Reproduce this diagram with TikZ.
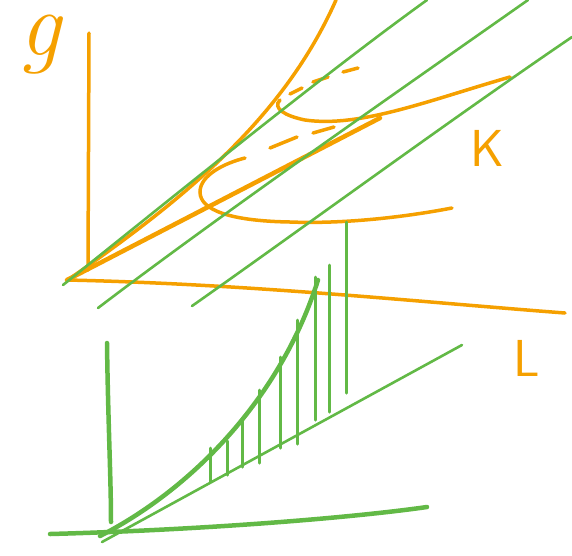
\documentclass[tikz,border=0pt]{standalone}
\usepackage{tikz}
\usetikzlibrary{positioning}

\definecolor{penorange}{RGB}{245,160,0}
\definecolor{pengreen}{RGB}{98,185,70}

\begin{document}
\begin{tikzpicture}[x=1pt,y=-1pt,
  orng/.style={penorange,line width=3.5pt,line cap=round},
  orngthick/.style={penorange,line width=4.5pt,line cap=round},
  grn/.style={pengreen,line width=2.6pt,line cap=round},
  grnthick/.style={pengreen,line width=4.5pt,line cap=round},
  hatch/.style={pengreen,line width=3pt,line cap=round},
  axlabel/.style={penorange,inner sep=0pt,font=\fontsize{52}{52}\selectfont\sffamily}
]
  \useasboundingbox (0,0) rectangle (572,555);

  % upper sketch: surface over K and L
  \coordinate (o) at (67,280);
  \draw[orng] (89,33) -- (88,270);
  \draw[orng] (o) .. controls (250,284) and (420,302) .. (565,313);
  \draw[orngthick] (o) -- (380,118);
  \draw[orng] (72,277) .. controls (190,195) and (285,115) .. (336,0);

  % isoquants
  \draw[orng] (452,208) .. controls (400,218) and (340,224) .. (290,222)
    .. controls (230,221) and (200,210) .. (200,192)
    .. controls (200,175) and (225,163) .. (245,158);
  \draw[orng] (270,148) -- (297,137);
  \draw[orng] (313,133) -- (334,127);
  \draw[orng] (510,77) .. controls (430,100) and (360,128) .. (305,120)
    .. controls (285,116) and (272,108) .. (280,100);
  \draw[orng] (290,94) -- (302,88);
  \draw[orng] (313,82) -- (328,77);
  \draw[orng] (343,72) -- (358,68);

  \node[penorange,inner sep=0pt,text height=40pt,text depth=19pt,anchor=base,
        font=\fontsize{92}{92}\selectfont\itshape] (ylab) at (40,55) {g};
  \node[axlabel] (klab) at (487,148) {K};
  \node[axlabel] (llab) at (527,358) {L};

  % green planes
  \draw[grn] (63,285) .. controls (200,175) and (330,70) .. (427,0);
  \draw[grn] (98,308) .. controls (220,215) and (400,90) .. (528,0);
  \draw[grn] (192,306) .. controls (300,230) and (450,120) .. (572,37);

  % lower sketch
  \draw[grnthick] (107,343) .. controls (108,420) and (111,480) .. (111,522);
  \draw[grnthick] (50,534) .. controls (200,530) and (350,518) .. (427,507);
  \draw[grn] (102,542) -- (462,345);
  \draw[grnthick] (100,536) .. controls (190,490) and (280,400) .. (318,280);
  \foreach \x/\t/\b in {210/448/482, 227/441/475, 242/418/467, 259/390/463,
                        280/357/448, 297/320/444, 315/277/420, 329/265/412,
                        346/222/393}
    \draw[hatch] (\x,\t) -- (\x,\b);
\end{tikzpicture}
\end{document}
